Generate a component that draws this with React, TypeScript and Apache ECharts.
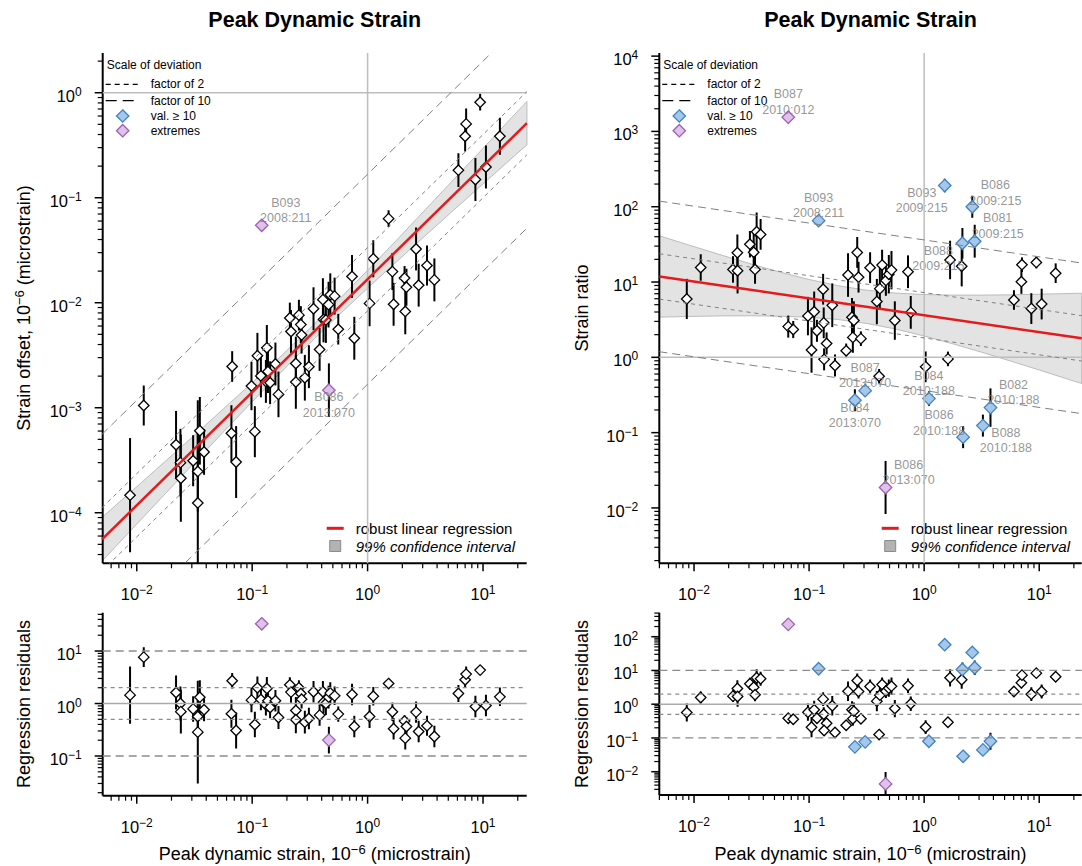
import React, { useEffect, useRef } from 'react';
import * as echarts from 'echarts';

// ================= DATA =================
// Left panel: strain offset vs peak dynamic strain
const offsetX = [0.00875, 0.0115, 0.0219, 0.0239, 0.0241, 0.0308, 0.0338, 0.0338, 0.0352, 0.0383,
  0.0671, 0.0661, 0.0726, 0.0986, 0.1055, 0.111, 0.119, 0.121, 0.134, 0.1315,
  0.137, 0.143, 0.159, 0.169, 0.212, 0.217, 0.239, 0.239, 0.254, 0.264,
  0.268, 0.286, 0.310, 0.340, 0.384, 0.410, 0.415, 0.435, 0.459, 0.475,
  0.518, 0.462, 0.557, 0.733, 0.767, 1.04, 1.12, 1.52, 1.64, 1.68,
  2.09, 2.12, 2.17, 2.63, 2.77, 3.27, 3.79, 6.12, 7.0, 7.14,
  8.59, 9.44, 10.6, 14.0];
const offsetY = [1.47e-4, 1.05e-3, 4.44e-4, 3.0e-4, 2.13e-4, 3.13e-4, 2.47e-4, 1.24e-4, 6.03e-4, 3.79e-4,
  2.47e-3, 5.71e-4, 3.04e-4, 1.61e-3, 5.92e-4, 3.13e-3, 2.01e-3, 0.0546, 3.72e-3, 1.78e-3,
  2.21e-3, 1.73e-3, 2.61e-3, 1.34e-3, 7.16e-3, 5.32e-3, 2.64e-3, 1.76e-3, 7.62e-3, 6.19e-3,
  4.92e-3, 1.93e-3, 2.46e-3, 8.77e-3, 3.59e-3, 0.0107, 6.92e-3, 6.84e-3, 9.59e-3, 0.0119,
  0.01156, 1.47e-3, 5.6e-3, 0.0178, 4.59e-3, 9.86e-3, 0.0262, 0.0632, 0.0198, 9.66e-3,
  0.0172, 8.26e-3, 0.01406, 0.0325, 0.0147, 0.0226, 0.0165, 0.183, 0.385, 0.505,
  0.149, 0.813, 0.196, 0.385];
const offsetErr = [3.5, 1.55, 2.1, 2.1, 2.6, 1.75, 2.4, 9.5, 2.1, 1.65,
  1.4, 1.85, 2.2, 1.7, 1.75, 1.65, 1.6, 1.12, 1.65, 1.6,
  1.6, 1.6, 1.6, 1.65, 1.4, 1.6, 1.8, 1.8, 1.4, 1.5,
  1.5, 1.65, 1.6, 1.6, 1.6, 1.6, 1.65, 1.65, 1.65, 1.6,
  1.5, 1.8, 1.4, 1.6, 1.6, 1.65, 1.5, 1.2, 1.5, 1.6,
  1.3, 1.65, 1.5, 1.6, 1.6, 1.55, 1.6, 1.45, 1.4, 1.4,
  1.6, 1.2, 1.6, 1.5];
const offsetResid = [1.445, 7.65, 1.62, 1.0, 0.70, 0.79, 0.565, 0.285, 1.32, 0.76,
  2.71, 0.637, 0.306, 1.16, 0.398, 1.99, 1.19, 33.0, 1.93, 0.944,
  1.125, 0.84, 1.125, 0.541, 2.27, 1.65, 0.736, 0.49, 1.99, 1.55,
  1.21, 0.442, 0.518, 1.67, 0.601, 1.67, 1.06, 1.0, 1.32, 1.58,
  1.40, 0.201, 0.628, 1.48, 0.365, 0.565, 1.38, 2.40, 0.695, 0.33,
  0.462, 0.219, 0.365, 0.686, 0.293, 0.376, 0.235, 1.55, 2.83, 3.63,
  0.877, 4.33, 0.916, 1.34];
const offsetSpecial = [
  { i: 17, kind: 'extreme', site: 'B093', day: '2008:211' },
  { i: 41, kind: 'extreme', site: 'B086', day: '2013:070' },
];

// Right panel: strain ratio vs peak dynamic strain
const ratioX = [0.00865, 0.01143, 0.0218, 0.0238, 0.0239, 0.0306, 0.033, 0.0339, 0.0350, 0.0379,
  0.0659, 0.0659, 0.0728, 0.0977, 0.1107, 0.105, 0.117, 0.121, 0.1324, 0.134,
  0.142, 0.135, 0.159, 0.168, 0.210, 0.218, 0.236, 0.240, 0.245, 0.250,
  0.262, 0.269, 0.282, 0.307, 0.339, 0.388, 0.406, 0.412, 0.431, 0.465,
  0.462, 0.493, 0.520, 0.556, 0.724, 0.765, 1.03, 1.10, 1.51, 1.61,
  1.68, 2.12, 2.15, 2.18, 2.62, 2.75, 3.24, 3.77, 6.03, 7.0,
  7.08, 8.54, 9.44, 10.5, 13.9];
const ratioY = [5.96, 15.6, 14.7, 24.5, 14.1, 31.8, 24.8, 14.7, 46.6, 42.8,
  1545, 2.56, 2.34, 3.53, 4.04, 1.25, 2.25, 65.3, 8.02, 2.87,
  1.53, 0.94, 4.91, 0.78, 1.22, 12.4, 3.41, 1.84, 3.08, 0.269,
  24.7, 11.6, 1.77, 0.361, 15.5, 5.5, 0.56, 8.17, 16.8, 10.5,
  0.0187, 12.7, 14.4, 3.08, 13.7, 3.95, 0.748, 0.283, 191, 0.953,
  19.6, 16.2, 32.7, 0.0871, 99.8, 34.8, 0.124, 0.215, 5.77, 10.1,
  17.0, 4.44, 18.2, 5.1, 13.1];
const ratioErr = [1.85, 1.5, 1.5, 1.75, 2.0, 1.5, 1.85, 1.55, 1.8, 1.6,
  1.2, 1.4, 1.3, 1.8, 1.85, 2.0, 1.4, 1.07, 1.6, 1.6,
  1.4, 1.4, 1.95, 1.4, 1.25, 1.95, 1.8, 1.6, 1.8, 1.4,
  1.6, 1.6, 1.25, 1.07, 1.6, 2.0, 1.25, 1.9, 1.6, 1.6,
  2.25, 1.8, 1.8, 1.8, 1.65, 1.65, 1.6, 1.25, 1.23, 1.25,
  1.8, 1.85, 1.6, 1.4, 1.4, 1.65, 1.4, 1.8, 1.35, 1.45,
  1.25, 1.6, 1.2, 1.6, 1.35];
const ratioResid = [0.567, 1.58, 1.73, 2.92, 1.69, 4.03, 3.19, 1.90, 6.07, 5.67,
  232, 0.384, 0.359, 0.579, 0.682, 0.208, 0.384, 11.2, 1.41, 0.505,
  0.273, 0.166, 0.897, 0.145, 0.238, 2.43, 0.682, 0.369, 0.62, 0.0544,
  5.05, 2.38, 0.369, 0.0766, 3.35, 1.23, 0.126, 1.85, 3.84, 2.43,
  0.00435, 2.98, 3.42, 0.745, 3.52, 1.03, 0.208, 0.0798, 57.9, 0.292,
  6.07, 5.3, 10.7, 0.0286, 34.2, 12.0, 0.0443, 0.0798, 2.38, 4.32,
  7.26, 1.98, 8.32, 2.38, 6.5];
const ratioSpecial = [
  { i: 10, kind: 'extreme', site: 'B087', day: '2010:012' },
  { i: 17, kind: 'val10', site: 'B093', day: '2008:211' },
  { i: 29, kind: 'val10', site: 'B084', day: '2013:070' },
  { i: 33, kind: 'val10', site: 'B087', day: '2013:070' },
  { i: 40, kind: 'extreme', site: 'B086', day: '2013:070' },
  { i: 47, kind: 'val10', site: 'B084', day: '2010:188' },
  { i: 48, kind: 'val10', site: 'B093', day: '2009:215' },
  { i: 52, kind: 'val10', site: 'B088', day: '2009:215' },
  { i: 53, kind: 'val10', site: 'B086', day: '2010:188' },
  { i: 54, kind: 'val10', site: 'B086', day: '2009:215' },
  { i: 55, kind: 'val10', site: 'B081', day: '2009:215' },
  { i: 56, kind: 'val10', site: 'B088', day: '2010:188' },
  { i: 57, kind: 'val10', site: 'B082', day: '2010:188' },
];

// Regression lines (end points) and 99% confidence bands
const fitOffset = [[0.005, 5.58e-5], [24, 0.513]];
const fitRatio = [[0.005, 11.87], [23.4, 1.787]];
const bandOffsetX = [0.005, 0.01, 0.0178, 0.0316, 0.0562, 0.1, 0.178, 0.316, 0.562, 1, 1.78, 3.16, 5.62, 10, 15.8, 24];
const bandOffsetUp = [9.02e-5, 1.77e-4, 3.11e-4, 5.48e-4, 9.73e-4, 1.73e-3, 3.11e-3, 5.69e-3, 0.01067, 0.02037, 0.0394, 0.0769, 0.1507, 0.295, 0.507, 0.826];
const bandOffsetLo = [3.46e-5, 7.8e-5, 1.53e-4, 3.0e-4, 5.86e-4, 1.14e-3, 2.18e-3, 4.12e-3, 7.62e-3, 0.01377, 0.02455, 0.04355, 0.0769, 0.1352, 0.2123, 0.3184];
const bandRatioX = [0.005, 0.01, 0.0178, 0.0316, 0.0562, 0.1, 0.178, 0.316, 0.562, 1, 1.78, 3.16, 5.62, 10, 15.8, 23.4];
const bandRatioUp = [41.1, 29.5, 22.5, 17.3, 13.5, 10.8, 8.95, 7.78, 7.13, 6.82, 6.70, 6.70, 6.76, 6.89, 7.00, 7.11];
const bandRatioLo = [3.42, 3.50, 3.55, 3.56, 3.52, 3.41, 3.18, 2.82, 2.38, 1.92, 1.51, 1.17, 0.895, 0.679, 0.543, 0.449];

// deviation scales
const factorShort = 2;
const factorLong = 10;

// tick exponents (labels 10^e)
const xTickExp = [-2, -1, 0, 1];
const yTickExpOffset = [-4, -3, -2, -1, 0];
const yTickExpRatio = [-2, -1, 0, 1, 2, 3, 4];
const yTickExpResidOffset = [-1, 0, 1];
const yTickExpResidRatio = [-2, -1, 0, 1, 2];

// ================= LAYOUT / STYLE =================
const FONT = "'Liberation Sans', Arial, Helvetica, sans-serif";
const PANELS = [
  { left: 102.7, top: 53, width: 424, height: 510.3, xr: [0.00507, 23.9], yr: [3.30e-5, 2.39] },
  { left: 659.3, top: 53, width: 422.4, height: 510.3, xr: [0.00499, 23.4], yr: [1.84e-3, 1.1e4] },
  { left: 102.7, top: 612.7, width: 424, height: 183, xr: [0.00507, 23.9], yr: [0.01754, 53.7] },
  { left: 659.3, top: 612.7, width: 422.4, height: 182.3, xr: [0.00499, 23.4], yr: [0.00204, 514] },
];
const offsetLabelOffsets = [[24, -15], [0, 15]];
const ratioLabelOffsets = [[0, -15], [0, -15], [0, 15], [0, -15], [23, -15], [0, -15], [-23, 15], [-24, 15], [-24, -14], [23, -14], [23, -15], [23, 15], [23, -15]];

const BLUE_FILL = '#a4c7ea';
const BLUE_LINE = '#3f82c4';
const PURPLE_FILL = '#dcc3e8';
const PURPLE_LINE = '#a55bb8';
const RED = '#e41a1c';

const fmtExp = (e: number) => (e < 0 ? '\u2212' + -e : String(e));
const RICH_TICK = {
  b: { fontSize: 16.5, fontFamily: FONT, fill: '#000', lineHeight: 20 },
  s: { fontSize: 12, fontFamily: FONT, fill: '#000', lineHeight: 12, verticalAlign: 'top' },
};
const RICH_TITLE = {
  s: { fontSize: 13, fontFamily: FONT, fill: '#000', lineHeight: 13, verticalAlign: 'top' },
};

function minors(lo: number, hi: number) {
  const out: number[] = [];
  for (let e = -6; e <= 5; e++) {
    for (let d = 2; d <= 9; d++) {
      const v = d * Math.pow(10, e);
      if (v >= lo && v <= hi) out.push(v);
    }
  }
  return out;
}

function lineSeries(pi: number, pts: number[][], color: string, width: number, dash?: number[]) {
  return {
    type: 'line', xAxisIndex: pi, yAxisIndex: pi, data: pts, symbol: 'none', silent: true,
    lineStyle: { color, width, type: dash || 'solid' }, clip: true,
  };
}

function bandSeries(pi: number, bx: number[], up: number[], lo: number[]) {
  return {
    type: 'custom', xAxisIndex: pi, yAxisIndex: pi, clip: true, silent: true,
    data: [[bx[0], up[0]]],
    renderItem: (params: any, api: any) => {
      const top = bx.map((x, i) => api.coord([x, up[i]]));
      const bot = bx.map((x, i) => api.coord([x, lo[i]])).reverse();
      return {
        type: 'polygon', shape: { points: top.concat(bot) },
        style: { fill: '#e3e3e3', stroke: '#bcbcbc', lineWidth: 1 },
      };
    },
  };
}

function errSeries(pi: number, xs: number[], ys: number[], errs: number[]) {
  return {
    type: 'custom', xAxisIndex: pi, yAxisIndex: pi, clip: true, silent: true,
    data: xs.map((x, i) => [x, ys[i], errs[i]]),
    renderItem: (params: any, api: any) => {
      const x = api.value(0), y = api.value(1), f = api.value(2);
      const a = api.coord([x, y / f]);
      const b = api.coord([x, y * f]);
      return { type: 'line', shape: { x1: a[0], y1: a[1], x2: b[0], y2: b[1] }, style: { stroke: '#000', lineWidth: 2 } };
    },
  };
}

function pointSeries(pi: number, data: number[][], fill: string, stroke: string, size: number) {
  return {
    type: 'scatter', xAxisIndex: pi, yAxisIndex: pi, data, symbol: 'diamond', symbolSize: size, silent: true,
    itemStyle: { color: fill, borderColor: stroke, borderWidth: 1.3, opacity: 1 },
  };
}

function labelSeries(pi: number, items: any[]) {
  return {
    type: 'scatter', xAxisIndex: pi, yAxisIndex: pi, symbol: 'circle', symbolSize: 0.1, silent: true,
    itemStyle: { color: 'rgba(0,0,0,0)' },
    label: { show: true, position: 'inside', color: '#7a7a7a', fontSize: 12.5, lineHeight: 15.5, fontFamily: FONT, align: 'center', verticalAlign: 'middle' },
    data: items,
  };
}

function axisSeries(pi: number, xExp: number[], yExp: number[]) {
  const P = PANELS[pi];
  const xMin = minors(P.xr[0], P.xr[1]);
  const yMin = minors(P.yr[0], P.yr[1]);
  return {
    type: 'custom', xAxisIndex: pi, yAxisIndex: pi, clip: false, silent: true,
    data: [[P.xr[0], P.yr[0]]],
    renderItem: (params: any, api: any) => {
      const c = (x: number, y: number) => api.coord([x, y]);
      const o = c(P.xr[0], P.yr[0]);
      const xe = c(P.xr[1], P.yr[0]);
      const ye = c(P.xr[0], P.yr[1]);
      const kids: any[] = [];
      const ln = (x1: number, y1: number, x2: number, y2: number, w: number) => ({
        type: 'line', shape: { x1, y1, x2, y2 }, style: { stroke: '#000', lineWidth: w },
      });
      const lab = (x: number, y: number, e: number, align: string) => ({
        type: 'text', x, y,
        style: {
          text: `{b|10}{s|${fmtExp(e)}}`, rich: RICH_TICK, fontSize: 16.5, fontFamily: FONT, fill: '#000',
          align, verticalAlign: 'middle', textAlign: align, textVerticalAlign: 'middle',
        },
      });
      kids.push(ln(o[0], o[1], xe[0], xe[1], 2));
      kids.push(ln(o[0], o[1], ye[0], ye[1], 2));
      xExp.forEach((e) => {
        const p = c(Math.pow(10, e), P.yr[0]);
        kids.push(ln(p[0], o[1], p[0], o[1] + 8, 1.5));
        kids.push(lab(p[0], o[1] + 31, e, 'center'));
      });
      xMin.forEach((v) => {
        const p = c(v, P.yr[0]);
        kids.push(ln(p[0], o[1], p[0], o[1] + 5, 1.2));
      });
      yExp.forEach((e) => {
        const p = c(P.xr[0], Math.pow(10, e));
        kids.push(ln(o[0], p[1], o[0] - 8, p[1], 1.5));
        kids.push(lab(o[0] - 21, p[1] + 3, e, 'right'));
      });
      yMin.forEach((v) => {
        const p = c(P.xr[0], v);
        kids.push(ln(o[0], p[1], o[0] - 5, p[1], 1.2));
      });
      return { type: 'group', children: kids };
    },
  };
}

function topPanelSeries(pi: number, X: number[], Y: number[], E: number[], fit: number[][],
  bx: number[], bu: number[], bl: number[], special: any[], offs: number[][]) {
  const P = PANELS[pi];
  const s: any[] = [];
  const scale = (f: number) => fit.map(([x, y]) => [x, y * f]);
  s.push(lineSeries(pi, [[P.xr[0], 1], [P.xr[1], 1]], '#bdbdbd', 1.5));
  s.push(lineSeries(pi, [[1, P.yr[0]], [1, P.yr[1]]], '#bdbdbd', 1.5));
  s.push(lineSeries(pi, scale(factorLong), '#808080', 1, [8, 5]));
  s.push(lineSeries(pi, scale(1 / factorLong), '#808080', 1, [8, 5]));
  s.push(lineSeries(pi, scale(factorShort), '#808080', 1, [4, 4]));
  s.push(lineSeries(pi, scale(1 / factorShort), '#808080', 1, [4, 4]));
  s.push(bandSeries(pi, bx, bu, bl));
  s.push(lineSeries(pi, fit, RED, 2.5));
  s.push(errSeries(pi, X, Y, E));
  const specIdx = special.map((q) => q.i);
  s.push(pointSeries(pi, X.map((x, i) => [x, Y[i]]).filter((_, i) => specIdx.indexOf(i) < 0), '#ffffff', '#000000', 10.5));
  s.push(pointSeries(pi, special.filter((q) => q.kind === 'val10').map((q) => [X[q.i], Y[q.i]]), BLUE_FILL, BLUE_LINE, 12.5));
  s.push(pointSeries(pi, special.filter((q) => q.kind === 'extreme').map((q) => [X[q.i], Y[q.i]]), PURPLE_FILL, PURPLE_LINE, 12.5));
  s.push(labelSeries(pi, special.map((q, k) => ({
    value: [X[q.i], Y[q.i]],
    label: { offset: offs[k], formatter: `${q.site}\n${q.day}` },
  }))));
  return s;
}

function residPanelSeries(pi: number, X: number[], R: number[], E: number[], special: any[]) {
  const P = PANELS[pi];
  const s: any[] = [];
  const h = (v: number) => [[P.xr[0], v], [P.xr[1], v]];
  s.push(lineSeries(pi, h(1), '#aaaaaa', 1.5));
  s.push(lineSeries(pi, h(factorShort), '#8c8c8c', 1.3, [4, 4]));
  s.push(lineSeries(pi, h(1 / factorShort), '#8c8c8c', 1.3, [4, 4]));
  s.push(lineSeries(pi, h(factorLong), '#8c8c8c', 1.3, [8, 5]));
  s.push(lineSeries(pi, h(1 / factorLong), '#8c8c8c', 1.3, [8, 5]));
  s.push(errSeries(pi, X, R, E));
  const specIdx = special.map((q) => q.i);
  s.push(pointSeries(pi, X.map((x, i) => [x, R[i]]).filter((_, i) => specIdx.indexOf(i) < 0), '#ffffff', '#000000', 10.5));
  s.push(pointSeries(pi, special.filter((q) => q.kind === 'val10').map((q) => [X[q.i], R[q.i]]), BLUE_FILL, BLUE_LINE, 12.5));
  s.push(pointSeries(pi, special.filter((q) => q.kind === 'extreme').map((q) => [X[q.i], R[q.i]]), PURPLE_FILL, PURPLE_LINE, 12.5));
  return s;
}

function txt(x: number, y: number, text: string, size: number, align = 'left', extra: any = {}) {
  return {
    type: 'text', x, y, silent: true,
    style: {
      text, fontSize: size, fontFamily: FONT, fill: '#000',
      align, verticalAlign: 'middle', textAlign: align, textVerticalAlign: 'middle', ...extra,
    },
  };
}

function diamond(cx: number, cy: number, fill: string, stroke: string) {
  const r = 6.2;
  return {
    type: 'polygon', silent: true,
    shape: { points: [[cx, cy - r], [cx + r, cy], [cx, cy + r], [cx - r, cy]] },
    style: { fill, stroke, lineWidth: 1.3 },
  };
}

function legendTop(L: number) {
  return [
    txt(L + 4, 65, 'Scale of deviation', 12),
    { type: 'line', silent: true, shape: { x1: L + 3, y1: 84.3, x2: L + 38, y2: 84.3 }, style: { stroke: '#000', lineWidth: 1.3, lineDash: [5, 4] } },
    txt(L + 48, 84.3, 'factor of 2', 12),
    { type: 'line', silent: true, shape: { x1: L + 3, y1: 100.7, x2: L + 34, y2: 100.7 }, style: { stroke: '#000', lineWidth: 1.3, lineDash: [11, 6] } },
    txt(L + 48, 100.7, 'factor of 10', 12),
    diamond(L + 20, 116, BLUE_FILL, BLUE_LINE),
    txt(L + 48, 116, 'val. \u2265 10', 12),
    diamond(L + 20, 130.7, PURPLE_FILL, PURPLE_LINE),
    txt(L + 48, 130.7, 'extremes', 12),
  ];
}

function legendBottom(R: number) {
  return [
    { type: 'line', silent: true, shape: { x1: R - 200, y1: 528.3, x2: R - 183, y2: 528.3 }, style: { stroke: RED, lineWidth: 3 } },
    txt(R - 171, 528.3, 'robust linear regression', 15),
    { type: 'rect', silent: true, shape: { x: R - 197, y: 540.5, width: 11, height: 11 }, style: { fill: '#b3b3b3', stroke: '#8a8a8a', lineWidth: 1 } },
    txt(R - 171, 546, '99% confidence interval', 15, 'left', { fontStyle: 'italic' }),
  ];
}

function buildOption() {
  const series: any[] = [];
  series.push(...topPanelSeries(0, offsetX, offsetY, offsetErr, fitOffset, bandOffsetX, bandOffsetUp, bandOffsetLo, offsetSpecial, offsetLabelOffsets));
  series.push(...topPanelSeries(1, ratioX, ratioY, ratioErr, fitRatio, bandRatioX, bandRatioUp, bandRatioLo, ratioSpecial, ratioLabelOffsets));
  series.push(...residPanelSeries(2, offsetX, offsetResid, offsetErr, offsetSpecial));
  series.push(...residPanelSeries(3, ratioX, ratioResid, ratioErr, ratioSpecial));
  series.push(axisSeries(0, xTickExp, yTickExpOffset));
  series.push(axisSeries(1, xTickExp, yTickExpRatio));
  series.push(axisSeries(2, xTickExp, yTickExpResidOffset));
  series.push(axisSeries(3, xTickExp, yTickExpResidRatio));

  const titleStyle = { fontWeight: 'bold' };
  const rotTitle = (x: number, y: number, text: string) => ({
    type: 'text', x, y, rotation: Math.PI / 2, silent: true,
    style: {
      text, rich: RICH_TITLE, fontSize: 18, lineHeight: 22, fontFamily: FONT, fill: '#000',
      align: 'center', verticalAlign: 'middle', textAlign: 'center', textVerticalAlign: 'middle',
    },
  });
  const xTitle = (x: number) => ({
    type: 'text', x, y: 854, silent: true,
    style: {
      text: 'Peak dynamic strain, 10{s|\u22126} (microstrain)', rich: RICH_TITLE, fontSize: 18, lineHeight: 22,
      fontFamily: FONT, fill: '#000', align: 'center', verticalAlign: 'middle', textAlign: 'center', textVerticalAlign: 'middle',
    },
  });

  const graphic = [
    txt(314.7, 20, 'Peak Dynamic Strain', 21.5, 'center', titleStyle),
    txt(870.5, 20, 'Peak Dynamic Strain', 21.5, 'center', titleStyle),
    rotTitle(24, 308, 'Strain offset, 10{s|\u22126} (microstrain)'),
    rotTitle(582, 308, 'Strain ratio'),
    rotTitle(24, 704, 'Regression residuals'),
    rotTitle(582, 704, 'Regression residuals'),
    xTitle(314.7),
    xTitle(870.5),
    ...legendTop(PANELS[0].left),
    ...legendTop(PANELS[1].left),
    ...legendBottom(PANELS[0].left + PANELS[0].width),
    ...legendBottom(PANELS[1].left + PANELS[1].width),
  ];

  return {
    animation: false,
    backgroundColor: '#ffffff',
    textStyle: { fontFamily: FONT },
    grid: PANELS.map((p) => ({ left: p.left, top: p.top, width: p.width, height: p.height, containLabel: false, show: false })),
    xAxis: PANELS.map((p, i) => ({
      type: 'log', logBase: 10, gridIndex: i, min: p.xr[0], max: p.xr[1],
      axisLine: { show: false }, axisTick: { show: false }, axisLabel: { show: false },
      splitLine: { show: false }, minorTick: { show: false }, minorSplitLine: { show: false },
    })),
    yAxis: PANELS.map((p, i) => ({
      type: 'log', logBase: 10, gridIndex: i, min: p.yr[0], max: p.yr[1],
      axisLine: { show: false }, axisTick: { show: false }, axisLabel: { show: false },
      splitLine: { show: false }, minorTick: { show: false }, minorSplitLine: { show: false },
    })),
    series,
    graphic: { elements: graphic },
  };
}

export default function App() {
  const ref = useRef<HTMLDivElement>(null);
  useEffect(() => {
    const chart = echarts.init(ref.current as HTMLDivElement, undefined, { renderer: 'svg' });
    chart.setOption(buildOption() as any);
    return () => chart.dispose();
  }, []);
  return <div ref={ref} style={{ position: 'absolute', left: 0, top: 0, width: 1082, height: 866, background: '#fff' }} />;
}
